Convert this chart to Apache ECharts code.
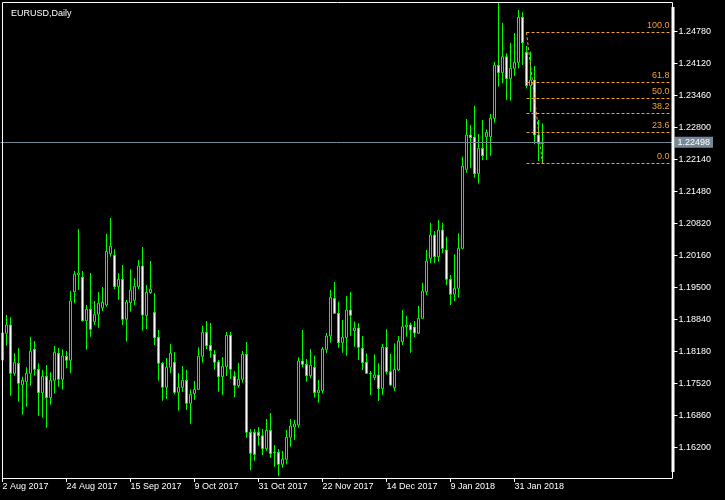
<!DOCTYPE html>
<html>
<head>
<meta charset="utf-8">
<script src="https://cdn.jsdelivr.net/npm/echarts@6/dist/echarts.min.js"></script>
<style>
html,body{margin:0;padding:0;background:#000;}
#chart{width:725px;height:500px;}
</style>
</head>
<body>
<div id="chart"></div>
<script>
// ---- data (EURUSD daily) ----
const dateLabels = ['2 Aug 2017','24 Aug 2017','15 Sep 2017','9 Oct 2017','31 Oct 2017','22 Nov 2017','14 Dec 2017','9 Jan 2018','31 Jan 2018'];
const barsPerLabel = 16;
const totalSlots = 168;

const openP = [1.18002,1.18553,1.18725,1.17728,1.17934,1.17492,1.17554,1.17728,1.18223,1.17810,
1.17327,1.17666,1.17224,1.17583,1.18141,1.17604,1.18079,1.17996,1.19412,1.19763,
1.19710,1.18814,1.19049,1.18793,1.18946,1.19082,1.19138,1.20197,1.20164,1.19516,
1.19668,1.18843,1.19185,1.19235,1.19516,1.19943,1.18917,1.19392,1.18987,1.18471,
1.17934,1.17439,1.17852,1.17955,1.17335,1.17439,1.17583,1.17108,1.17307,1.17397,
1.18079,1.18574,1.18306,1.18120,1.17961,1.17657,1.17864,1.18512,1.17666,1.17472,
1.17604,1.18120,1.16510,1.16510,1.16510,1.16439,1.16171,1.16551,1.16103,1.16097,
1.15849,1.15952,1.16406,1.16619,1.16660,1.17982,1.17913,1.17678,1.17852,1.17327,
1.17368,1.18223,1.18498,1.19276,1.18966,1.18359,1.18463,1.19034,1.18607,1.18663,
1.18244,1.17955,1.17728,1.17637,1.17693,1.17410,1.18264,1.17761,1.17430,1.17796,
1.18380,1.18690,1.18725,1.18684,1.18553,1.18863,1.19412,1.20102,1.20583,1.20135,
1.20686,1.20273,1.19668,1.19359,1.19482,1.20308,1.21939,1.22647,1.22606,1.21848,
1.22373,1.22612,1.22612,1.22992,1.24086,1.23934,1.24264,1.23810,1.24024,1.24148,
1.25077,1.24355,1.23665,1.23783,1.22647,1.22472];

const closeP = [1.18560,1.18725,1.17728,1.17955,1.17521,1.17583,1.17728,1.18182,1.17810,1.17327,
1.17666,1.17224,1.17583,1.18161,1.17604,1.18085,1.17996,1.19220,1.19772,1.19798,
1.18814,1.19049,1.18636,1.18946,1.19173,1.19193,1.20246,1.20350,1.19516,1.19668,
1.18843,1.19200,1.19447,1.19524,1.19943,1.18931,1.19400,1.19462,1.18463,1.17934,
1.17439,1.17852,1.18141,1.17335,1.17439,1.17583,1.17108,1.17294,1.17397,1.18079,
1.18574,1.18297,1.18194,1.17955,1.17657,1.17872,1.18512,1.17810,1.17480,1.17604,
1.18120,1.16510,1.16076,1.16055,1.16439,1.16171,1.16551,1.16068,1.16088,1.15849,
1.15952,1.16406,1.16640,1.16681,1.17982,1.17913,1.17678,1.17893,1.17327,1.17383,
1.18229,1.18498,1.19297,1.18966,1.18359,1.18471,1.19034,1.18925,1.18663,1.18264,
1.17947,1.17728,1.17719,1.17693,1.17410,1.18264,1.17761,1.17486,1.17810,1.18394,
1.18690,1.18725,1.18622,1.18560,1.18863,1.19427,1.20046,1.20583,1.20135,1.20686,
1.20308,1.19668,1.19359,1.19482,1.20308,1.22007,1.22647,1.22592,1.21848,1.22373,
1.22220,1.22703,1.22992,1.24086,1.23934,1.24264,1.23810,1.24024,1.24148,1.25077,
1.24553,1.23665,1.23783,1.22647,1.22476,1.22498];

const lowP = [1.17961,1.18297,1.17265,1.17678,1.17141,1.16873,1.17038,1.17472,1.17678,1.16852,
1.16811,1.16605,1.17079,1.17307,1.17451,1.17389,1.17831,1.17728,1.19173,1.19447,
1.18793,1.18215,1.18483,1.18725,1.18669,1.19014,1.19103,1.20135,1.19462,1.19247,
1.18725,1.18380,1.18999,1.19138,1.19468,1.18607,1.18642,1.19365,1.18312,1.17575,
1.17162,1.17197,1.17728,1.17294,1.16956,1.17342,1.16970,1.16687,1.17176,1.17383,
1.17947,1.18229,1.18050,1.17802,1.17348,1.17280,1.17672,1.17610,1.17238,1.17430,
1.17534,1.16398,1.15731,1.15923,1.16233,1.16041,1.16124,1.15979,1.15799,1.15607,
1.15779,1.15849,1.16212,1.16351,1.16605,1.17852,1.17554,1.17624,1.17224,1.17121,
1.17315,1.18141,1.18359,1.18958,1.18256,1.18153,1.18091,1.18504,1.18277,1.18002,
1.17796,1.17713,1.17280,1.17589,1.17156,1.17280,1.17707,1.17465,1.17362,1.17775,
1.18312,1.18483,1.18153,1.18477,1.18539,1.18855,1.19344,1.19999,1.19999,1.20032,
1.20205,1.19551,1.19138,1.19220,1.19288,1.20288,1.21869,1.21960,1.21766,1.21642,
1.22131,1.22131,1.22220,1.22901,1.23645,1.23715,1.23370,1.23355,1.23865,1.24024,
1.24093,1.23611,1.23128,1.22455,1.22111,1.22063];

const highP = [1.18622,1.18931,1.18884,1.18141,1.18244,1.17657,1.17852,1.18483,1.18394,1.17934,
1.17796,1.17899,1.17748,1.18291,1.18250,1.18223,1.18188,1.19427,1.19840,1.20707,
1.19840,1.19138,1.19798,1.19220,1.19406,1.19509,1.20604,1.20934,1.20288,1.19792,
1.19964,1.19241,1.19875,1.19689,1.20067,1.20335,1.19551,1.20046,1.19385,1.18622,
1.17961,1.18044,1.18333,1.18167,1.17734,1.17878,1.17796,1.17397,1.17569,1.18264,
1.18710,1.18807,1.18766,1.18209,1.18002,1.18064,1.18580,1.18580,1.17775,1.17940,
1.18188,1.18374,1.16578,1.16578,1.16619,1.16578,1.16784,1.16908,1.16247,1.16165,
1.16124,1.16557,1.16784,1.16764,1.18058,1.18622,1.18023,1.18229,1.18091,1.17589,
1.18271,1.18560,1.19447,1.19613,1.19206,1.18828,1.19324,1.19406,1.18793,1.18760,
1.18498,1.18141,1.17775,1.18120,1.17934,1.18333,1.18636,1.18126,1.18347,1.18498,
1.19034,1.18911,1.18772,1.18807,1.19117,1.19592,1.20273,1.20837,1.20665,1.20893,
1.20837,1.20548,1.19757,1.20184,1.20618,1.22199,1.22978,1.22854,1.23246,1.22668,
1.22957,1.22765,1.23081,1.24154,1.25379,1.24960,1.24334,1.24547,1.24753,1.25228,
1.25181,1.24485,1.24367,1.24072,1.22957,1.22889];

const lastPrice = 1.22498;
const fibRatios = [0, 23.6, 38.2, 50, 61.8, 100];
const fibLabels = ['0.0', '23.6', '38.2', '50.0', '61.8', '100.0'];
const fibLow = 1.22063;
const fibHigh = 1.24768;
const fibFromBar = 131;
const fibToBar = 135;

// ---- build ----
const FONT = 'Liberation Sans, Arial, sans-serif';
const FIB_COLOR = '#F0A030';
const slots = Array.from({length: totalSlots}, (_, i) => String(i));
const ohlc = openP.map((o, i) => [o, closeP[i], lowP[i], highP[i]]);

const fibMarks = fibRatios.map((r, k) => {
  const lvl = fibLow + (fibHigh - fibLow) * r / 100;
  return [
    {coord: [fibFromBar, lvl],
     lineStyle: {color: FIB_COLOR, type: [3, 2], width: 1},
     label: {show: true, position: 'insideEndTop', distance: [1, 2], formatter: fibLabels[k],
       color: FIB_COLOR, fontSize: 9, fontFamily: FONT}},
    {coord: [totalSlots - 1, lvl]}
  ];
});

const isLabelSlot = (i) => i % barsPerLabel === 0 && i / barsPerLabel < dateLabels.length;

const chart = echarts.init(document.getElementById('chart'), null, {renderer: 'canvas'});
chart.setOption({
  backgroundColor: '#000000',
  animation: false,
  textStyle: {fontFamily: FONT},
  title: {
    text: 'EURUSD,Daily', left: 6, top: 4,
    textStyle: {color: '#ffffff', fontSize: 9, fontWeight: 'normal', fontFamily: FONT}
  },
  grid: {left: 0.5, top: 2, width: 672, height: 477.27, containLabel: false, outerBoundsMode: 'none'},
  xAxis: {
    type: 'category',
    data: slots,
    boundaryGap: true,
    offset: -1.3,
    axisLine: {show: false},
    axisTick: {show: true, alignWithLabel: true, length: 4, interval: (i) => isLabelSlot(i),
      lineStyle: {color: '#ffffff', width: 1}},
    axisLabel: {show: true, interval: (i) => isLabelSlot(i), align: 'left', margin: 4,
      color: '#ffffff', fontSize: 9, fontFamily: FONT,
      formatter: (v, i) => dateLabels[Math.round(i / barsPerLabel)] || ''},
    splitLine: {show: false}
  },
  yAxis: {
    type: 'value',
    position: 'right',
    min: 1.1554,
    max: 1.25393,
    interval: 0.0066,
    scale: true,
    axisLine: {show: false},
    axisTick: {show: true, length: 5, lineStyle: {color: '#ffffff', width: 1}},
    axisLabel: {show: true, margin: 6, color: '#ffffff', fontSize: 9, fontFamily: FONT,
      showMinLabel: false, showMaxLabel: false,
      formatter: (v) => v.toFixed(5)},
    splitLine: {show: false}
  },
  series: [
    {
      name: 'price',
      type: 'line',
      data: [],
      silent: true,
      z: 1,
      markLine: {
        silent: true, symbol: ['none', 'none'], animation: false, precision: 6,
        data: [{
          yAxis: lastPrice,
          lineStyle: {color: '#778899', type: 'solid', width: 1},
          label: {show: true, position: 'end', distance: 2, formatter: lastPrice.toFixed(5),
            color: '#ffffff', backgroundColor: '#778899', padding: [1, 3, 1, 3],
            fontSize: 9, fontFamily: FONT, lineHeight: 9}
        }]
      }
    },
    {
      name: 'EURUSD',
      type: 'candlestick',
      data: ohlc,
      barWidth: 2.5,
      z: 2,
      itemStyle: {
        color: '#000000', color0: '#ffffff',
        borderColor: '#00ff00', borderColor0: '#00ff00', borderColorDoji: '#00ff00',
        borderWidth: 1
      }
    },
    {
      name: 'fibo',
      type: 'line',
      z: 3,
      silent: true,
      data: [[fibFromBar, fibHigh], [fibToBar, fibLow]],
      symbol: 'none',
      lineStyle: {color: FIB_COLOR, type: [3, 2], width: 1},
      markLine: {
        silent: true, symbol: ['none', 'none'], animation: false, precision: 6,
        data: fibMarks
      }
    }
  ],
  graphic: [
    {type: 'rect', z: 100, silent: true,
     shape: {x: 2.5, y: 2.5, width: 670, height: 476},
     style: {fill: null, stroke: '#ffffff', lineWidth: 1}},
    {type: 'line', z: 100, silent: true,
     shape: {x1: 673, y1: 7, x2: 673, y2: 472},
     style: {stroke: '#ffffff', lineWidth: 3}}
  ]
});
</script>
</body>
</html>
